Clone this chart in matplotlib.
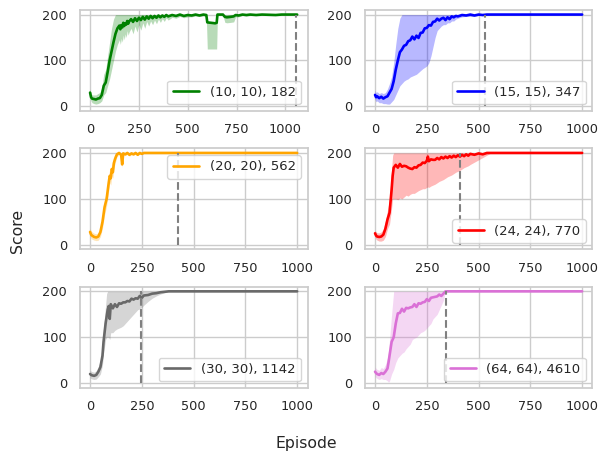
import matplotlib
matplotlib.use("Agg")
import matplotlib.pyplot as plt
import seaborn as sns

sns.set_theme(style="whitegrid")
plt.rcParams['font.family'] = ['DejaVu Sans']

labels = ["(10, 10), 182", "(15, 15), 347", "(20, 20), 562",
          "(24, 24), 770", "(30, 30), 1142", "(64, 64), 4610"]
colors = ["green", "blue", "orange", "red", "dimgray", "orchid"]
solved = [1056, 532, 424, 409, 247, 343]
legend_locs = ["lower right", "lower right", "upper right",
               "lower right", "lower right", "lower right"]

# ---- (10, 10) ----
ep1 = [0, 5, 10, 20, 30, 40, 50, 60, 70, 80, 90, 100, 110, 120, 130, 140, 150, 155, 160, 165,
       170, 175, 180, 185, 190, 195, 200, 210, 220, 230, 240, 250, 260, 270, 280, 290, 300, 310,
       320, 330, 340, 350, 360, 370, 380, 390, 400, 420, 440, 460, 480, 500, 520, 540, 560, 580,
       595, 600, 620, 640, 648, 652, 680, 690, 700, 720, 735, 745, 760, 780, 800, 820, 850, 880,
       950, 980, 1060]
mean1 = [30, 20, 17, 16, 15, 17, 18, 25, 45, 52, 75, 100, 120, 140, 158, 170, 176, 168, 177, 172,
         182, 175, 181, 178, 186, 180, 185, 190, 184, 192, 186, 193, 188, 195, 189, 196, 191, 197,
         192, 197, 193, 198, 194, 198, 195, 199, 196, 199, 197, 200, 197, 199, 198, 200, 198, 200,
         199, 183, 182, 181, 182, 200, 200, 195, 194, 195, 196, 199, 198, 200, 199, 200, 199, 200,
         199, 200, 200]
lo1 = [22, 12, 8, 6, 5, 6, 8, 12, 25, 30, 45, 60, 80, 100, 120, 135, 145, 135, 148, 140,
       155, 145, 158, 150, 165, 155, 162, 170, 158, 175, 162, 178, 166, 182, 170, 185, 175, 186,
       178, 188, 180, 190, 183, 191, 185, 193, 188, 194, 192, 196, 193, 195, 195, 197, 196, 197,
       196, 125, 125, 125, 125, 198, 198, 183, 182, 183, 184, 195, 195, 198, 197, 198, 198, 199,
       198, 200, 200]
hi1 = [38, 28, 25, 25, 25, 28, 30, 40, 70, 80, 110, 140, 170, 190, 200, 200, 200, 200, 200, 200,
       200, 200, 200, 200, 200, 200, 200, 200, 200, 200, 200, 200, 200, 200, 200, 200, 200, 200,
       200, 200, 200, 200, 200, 200, 200, 200, 200, 200, 200, 200, 200, 200, 200, 200, 200, 200,
       200, 185, 184, 184, 184, 200, 200, 200, 200, 200, 200, 200, 200, 200, 200, 200, 200, 200,
       200, 200, 200]

# ---- (15, 15) ----
ep2 = [0, 5, 10, 20, 30, 40, 50, 60, 70, 80, 90, 100, 110, 120, 130, 140, 150, 160, 170, 180,
       190, 200, 210, 220, 230, 240, 250, 260, 270, 280, 290, 300, 310, 320, 330, 340, 350, 360,
       370, 380, 390, 400, 420, 440, 460, 480, 500, 520, 540, 1000]
mean2 = [25, 20, 22, 18, 21, 17, 20, 22, 30, 38, 55, 80, 100, 118, 124, 132, 134, 142, 144, 152,
         146, 154, 149, 160, 161, 170, 171, 177, 176, 184, 185, 191, 187, 191, 193, 188, 194, 190,
         196, 194, 197, 196, 199, 198, 200, 198, 200, 199, 200, 200]
lo2 = [15, 10, 12, 8, 8, 6, 6, 5, 5, 10, 15, 25, 35, 45, 50, 55, 58, 60, 64, 66,
       68, 70, 74, 78, 82, 85, 88, 95, 110, 130, 150, 165, 170, 175, 178, 178, 182, 182,
       186, 186, 190, 192, 195, 196, 196, 196, 198, 198, 200, 200]
hi2 = [35, 30, 32, 28, 30, 28, 30, 38, 50, 65, 95, 135, 170, 192, 200, 200, 200, 200, 200, 200,
       200, 200, 200, 200, 200, 200, 200, 200, 200, 200, 200, 200, 200, 200, 200, 200, 200, 200,
       200, 200, 200, 200, 200, 200, 200, 200, 200, 200, 200, 200]

# ---- (20, 20) ----
ep3 = [0, 5, 10, 20, 30, 40, 50, 60, 70, 80, 90, 95, 100, 105, 110, 115, 120, 125, 130, 140,
       150, 155, 160, 170, 180, 190, 200, 210, 220, 230, 240, 250, 260, 1000]
mean3 = [28, 22, 20, 17, 16, 18, 28, 50, 82, 100, 135, 150, 145, 165, 158, 178, 186, 192, 197, 200,
         196, 175, 199, 197, 200, 196, 199, 197, 200, 196, 200, 198, 200, 200]
lo3 = [20, 14, 12, 10, 9, 10, 18, 36, 65, 85, 118, 135, 130, 150, 145, 166, 176, 184, 192, 196,
       192, 168, 196, 194, 197, 193, 196, 195, 198, 194, 198, 197, 200, 200]
hi3 = [36, 30, 28, 25, 24, 26, 38, 64, 98, 118, 152, 165, 160, 180, 172, 190, 196, 200, 200, 200,
       200, 185, 200, 200, 200, 200, 200, 200, 200, 200, 200, 200, 200, 200]

# ---- (24, 24) ----
ep4 = [0, 5, 10, 20, 30, 40, 50, 60, 70, 80, 85, 90, 100, 110, 120, 130, 140, 150, 160, 170,
       180, 190, 200, 210, 220, 230, 240, 250, 255, 260, 270, 280, 290, 300, 310, 320, 330, 340,
       350, 360, 370, 380, 390, 400, 410, 420, 430, 440, 450, 460, 480, 500, 520, 540, 560, 1000]
mean4 = [25, 20, 18, 17, 18, 22, 35, 55, 70, 120, 150, 168, 174, 168, 176, 170, 172, 171, 168, 166,
         165, 169, 168, 173, 174, 179, 178, 183, 192, 182, 186, 185, 185, 189, 186, 191, 188, 192,
         189, 193, 190, 194, 191, 195, 192, 196, 193, 197, 194, 198, 196, 199, 197, 200, 200, 200]
lo4 = [18, 12, 10, 8, 8, 10, 18, 35, 45, 80, 100, 100, 100, 98, 102, 100, 104, 108, 106, 110,
       112, 112, 115, 118, 120, 122, 122, 125, 126, 125, 128, 130, 132, 135, 138, 140, 142, 145,
       148, 150, 152, 155, 158, 160, 162, 165, 168, 170, 172, 175, 180, 185, 190, 195, 200, 200]
hi4 = [32, 28, 26, 26, 28, 34, 52, 75, 100, 165, 195, 200, 200, 200, 200, 200, 200, 200, 200, 200,
       200, 200, 200, 200, 200, 200, 200, 200, 200, 200, 200, 200, 200, 200, 200, 200, 200, 200,
       200, 200, 200, 200, 200, 200, 200, 200, 200, 200, 200, 200, 200, 200, 200, 200, 200, 200]

# ---- (30, 30) ----
ep5 = [0, 5, 10, 20, 30, 40, 50, 60, 65, 70, 75, 80, 85, 90, 95, 100, 110, 120, 130, 140,
       150, 160, 170, 180, 190, 200, 210, 220, 230, 240, 250, 260, 280, 300, 320, 340, 360, 380, 1000]
mean5 = [20, 18, 17, 16, 18, 25, 35, 60, 90, 110, 130, 145, 160, 168, 140, 172, 163, 172, 166, 174,
         173, 176, 176, 179, 178, 184, 182, 185, 184, 190, 186, 191, 192, 195, 196, 198, 199, 200, 200]
lo5 = [12, 10, 9, 8, 9, 14, 20, 40, 65, 80, 95, 100, 100, 100, 95, 110, 110, 115, 118, 120,
       122, 125, 130, 135, 140, 145, 150, 155, 160, 162, 165, 170, 178, 185, 190, 194, 197, 200, 200]
hi5 = [28, 26, 25, 24, 27, 36, 50, 85, 120, 145, 170, 195, 200, 200, 200, 200, 200, 200, 200, 200,
       200, 200, 200, 200, 200, 200, 200, 200, 200, 200, 200, 200, 200, 200, 200, 200, 200, 200, 200]

# ---- (64, 64) ----
ep6 = [0, 5, 10, 20, 30, 40, 50, 60, 65, 70, 80, 90, 100, 110, 120, 130, 140, 150, 160, 170,
       180, 190, 200, 210, 220, 230, 240, 250, 260, 270, 280, 290, 300, 310, 320, 330, 340, 1000]
mean6 = [25, 22, 20, 18, 22, 20, 25, 32, 45, 60, 90, 100, 130, 152, 153, 162, 156, 164, 163, 165,
         166, 172, 166, 174, 173, 176, 177, 183, 179, 186, 187, 188, 189, 193, 190, 195, 200, 200]
lo6 = [15, 12, 10, 8, 10, 8, 8, 5, 2, 5, 20, 30, 45, 55, 60, 65, 68, 75, 80, 85,
       95, 98, 100, 105, 110, 112, 115, 120, 125, 130, 140, 145, 150, 160, 170, 180, 200, 200]
hi6 = [35, 32, 30, 28, 34, 32, 40, 55, 70, 95, 150, 200, 200, 200, 200, 200, 200, 200, 200, 200,
       200, 200, 200, 200, 200, 200, 200, 200, 200, 200, 200, 200, 200, 200, 200, 200, 200, 200]

series = [(ep1, mean1, lo1, hi1), (ep2, mean2, lo2, hi2), (ep3, mean3, lo3, hi3),
          (ep4, mean4, lo4, hi4), (ep5, mean5, lo5, hi5), (ep6, mean6, lo6, hi6)]

fig, axes = plt.subplots(3, 2, figsize=(5.98, 4.53), dpi=100)
fig.subplots_adjust(left=0.1333, right=0.9908, bottom=0.144, top=0.978,
                    wspace=0.251, hspace=0.37)

for i, ax in enumerate(axes.flat):
    ep, m, lo, hi = series[i]
    c = colors[i]
    ax.fill_between(ep, lo, hi, color=c, alpha=0.28, linewidth=0)
    ax.plot(ep, m, color=c, lw=1.9, label=labels[i])
    ax.vlines(solved[i], 0, 200, colors="gray", linestyles="--", lw=1.5)
    ax.set_ylim(-10, 210)
    ax.set_xlim(-0.05 * ep[-1], 1.05 * ep[-1])
    ax.set_xticks([0, 250, 500, 750, 1000])
    ax.set_yticks([0, 100, 200])
    ax.tick_params(labelsize=9.3, pad=3)
    ax.legend(loc=legend_locs[i], fontsize=9.5)

fig.text(0.03, 0.491, "Score", rotation=90, ha="center", va="center", fontsize=11.3)
fig.text(0.512, 0.022, "Episode", ha="center", va="center", fontsize=11.3)

fig.savefig("out.png", dpi=100)
